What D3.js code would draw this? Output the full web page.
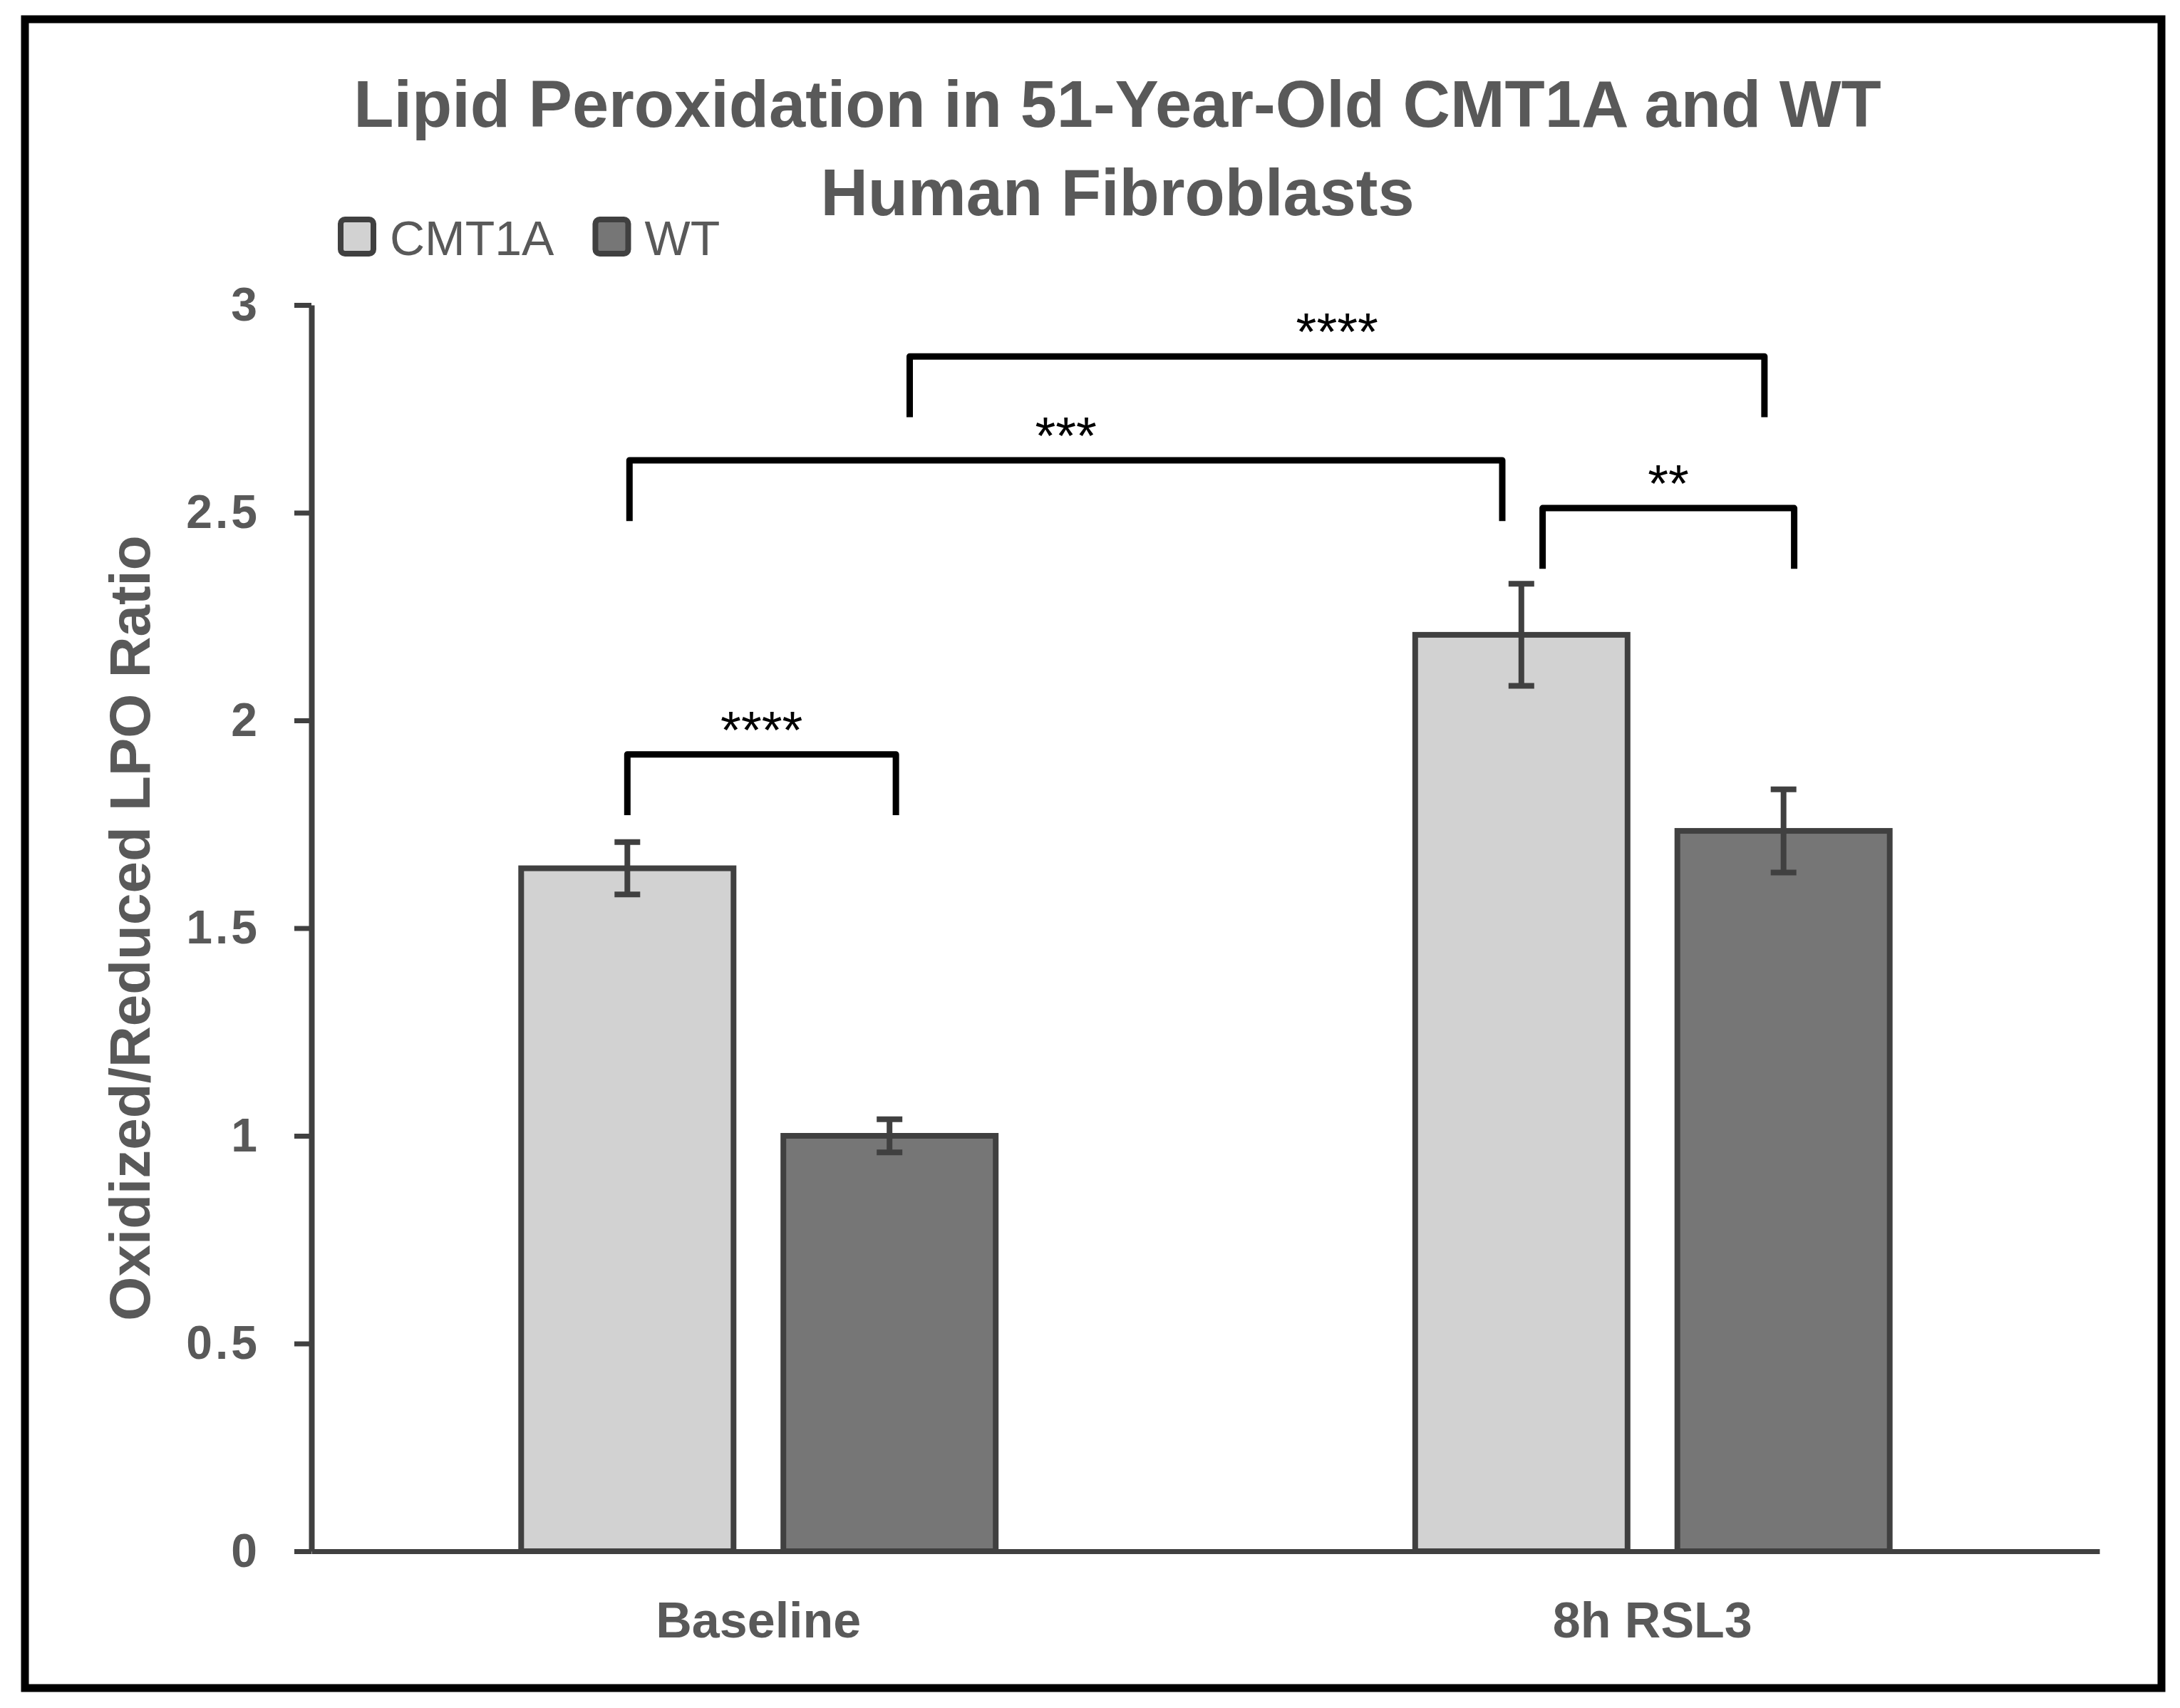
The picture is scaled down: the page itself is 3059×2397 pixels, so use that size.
<!DOCTYPE html>
<html>
<head>
<meta charset="utf-8">
<script src="https://cdn.jsdelivr.net/npm/d3@7"></script>
<style>
  body { margin: 0; background: #fff; }
  text { font-family: "Liberation Sans", Arial, sans-serif; }
</style>
</head>
<body>
<script>
// chart data
const categories = ["Baseline", "8h RSL3"];
const series = ["CMT1A", "WT"];
const cmt1aValues = [1.644, 2.206];
const cmt1aErrors = [0.063, 0.123];
const wtValues = [1.0, 1.734];
const wtErrors = [0.04, 0.10];
const yTicks = [0, 0.5, 1, 1.5, 2, 2.5, 3];
const titleLines = ["Lipid Peroxidation in 51-Year-Old CMT1A and WT", "Human Fibroblasts"];
const yTitle = "Oxidized/Reduced LPO Ratio";

// significance brackets: [category, series, nudge as fraction of bar width]
const brackets = [
  {from: ["Baseline", "CMT1A", 0], to: ["Baseline", "WT", 0.03], y: 1.918, label: "****"},
  {from: ["Baseline", "CMT1A", 0.01], to: ["8h RSL3", "CMT1A", -0.09], y: 2.626, label: "***"},
  {from: ["Baseline", "WT", 0.095], to: ["8h RSL3", "WT", -0.09], y: 2.876, label: "****"},
  {from: ["8h RSL3", "CMT1A", 0.1], to: ["8h RSL3", "WT", 0.05], y: 2.511, label: "**"}
];

const width = 3059, height = 2397;
const margin = {top: 428, bottom: 220, left: 437, right: 113};
const colors = {CMT1A: "#d2d2d2", WT: "#767676"};
const textGray = "#595959";
const lineGray = "#404040";

const rows = [];
categories.forEach((c, i) => {
  rows.push({cat: c, series: "CMT1A", value: cmt1aValues[i], err: cmt1aErrors[i]});
  rows.push({cat: c, series: "WT", value: wtValues[i], err: wtErrors[i]});
});

const svg = d3.select("body").append("svg")
  .attr("width", width)
  .attr("height", height);

svg.append("rect")
  .attr("width", width).attr("height", height)
  .attr("fill", "#fff");

// outer frame
svg.append("rect")
  .attr("x", 35).attr("y", 27)
  .attr("width", 2998).attr("height", 2342)
  .attr("fill", "none")
  .attr("stroke", "#000")
  .attr("stroke-width", 11);

// scales
const x0 = d3.scaleBand()
  .domain(categories)
  .range([margin.left, width - margin.right])
  .padding(0);

const x1 = d3.scaleBand()
  .domain(series)
  .range([0, x0.bandwidth()])
  .paddingInner(0.19)
  .paddingOuter(0.8);

const y = d3.scaleLinear()
  .domain([0, 3])
  .range([height - margin.bottom, margin.top]);

// title
svg.append("g")
  .selectAll("text")
  .data(titleLines)
  .enter()
  .append("text")
  .attr("x", 1568)
  .attr("y", (d, i) => 178 + i * 124)
  .attr("text-anchor", "middle")
  .attr("font-size", 92)
  .attr("font-weight", "bold")
  .attr("fill", textGray)
  .text(d => d);

// legend
const legend = svg.append("g").attr("transform", "translate(478, 308)");
let lx = 0;
series.forEach(s => {
  legend.append("rect")
    .attr("x", lx).attr("y", 0)
    .attr("width", 46).attr("height", 48)
    .attr("rx", 6)
    .attr("fill", colors[s])
    .attr("stroke", lineGray)
    .attr("stroke-width", 8);
  const t = legend.append("text")
    .attr("x", lx + 69)
    .attr("y", 50)
    .attr("font-size", 68)
    .attr("fill", textGray)
    .text(s);
  lx += 69 + t.node().getComputedTextLength() + 58;
});

// y axis
const yAxis = d3.axisLeft(y)
  .tickValues(yTicks)
  .tickFormat(d => String(d))
  .tickSize(24)
  .tickSizeOuter(0)
  .tickPadding(48);

const yg = svg.append("g")
  .attr("transform", `translate(${margin.left}, 0)`)
  .call(yAxis);
yg.select(".domain").attr("stroke", lineGray).attr("stroke-width", 8);
yg.selectAll(".tick line").attr("stroke", lineGray).attr("stroke-width", 7);
yg.selectAll(".tick text")
  .attr("font-family", "Liberation Sans, Arial, sans-serif")
  .attr("font-size", 66)
  .attr("font-weight", "bold")
  .attr("letter-spacing", 4)
  .attr("fill", textGray);

// y axis title
svg.append("text")
  .attr("transform", `translate(210, ${(y(0) + y(3)) / 2}) rotate(-90)`)
  .attr("text-anchor", "middle")
  .attr("font-size", 80)
  .attr("font-weight", "bold")
  .attr("fill", textGray)
  .text(yTitle);

// bars
const bars = svg.append("g").attr("id", "bars");
bars.selectAll("rect")
  .data(rows)
  .enter()
  .append("rect")
  .attr("x", d => x0(d.cat) + x1(d.series))
  .attr("y", d => y(d.value))
  .attr("width", x1.bandwidth())
  .attr("height", d => y(0) - y(d.value))
  .attr("fill", d => colors[d.series])
  .attr("stroke", lineGray)
  .attr("stroke-width", 8);

// error bars
const cx = d => x0(d.cat) + x1(d.series) + x1.bandwidth() / 2;
const errs = svg.append("g")
  .attr("stroke", lineGray)
  .attr("stroke-width", 8);
errs.selectAll("line.stem")
  .data(rows)
  .enter().append("line")
  .attr("class", "stem")
  .attr("x1", cx).attr("x2", cx)
  .attr("y1", d => y(d.value + d.err))
  .attr("y2", d => y(d.value - d.err));
errs.selectAll("line.capTop")
  .data(rows)
  .enter().append("line")
  .attr("class", "capTop")
  .attr("x1", d => cx(d) - 18).attr("x2", d => cx(d) + 18)
  .attr("y1", d => y(d.value + d.err))
  .attr("y2", d => y(d.value + d.err));
errs.selectAll("line.capBot")
  .data(rows)
  .enter().append("line")
  .attr("class", "capBot")
  .attr("x1", d => cx(d) - 18).attr("x2", d => cx(d) + 18)
  .attr("y1", d => y(d.value - d.err))
  .attr("y2", d => y(d.value - d.err));

// x axis
const xAxis = d3.axisBottom(x0)
  .tickSize(0)
  .tickSizeOuter(0);

const xg = svg.append("g")
  .attr("transform", `translate(0, ${y(0)})`)
  .call(xAxis);
xg.select(".domain").attr("stroke", lineGray).attr("stroke-width", 7);
xg.selectAll(".tick text")
  .attr("dy", null)
  .attr("y", 121)
  .attr("font-family", "Liberation Sans, Arial, sans-serif")
  .attr("font-size", 70)
  .attr("font-weight", "bold")
  .attr("fill", textGray);

// significance brackets
const endX = e => x0(e[0]) + x1(e[1]) + x1.bandwidth() * (0.5 + e[2]);
const legDrop = 0.146;

const sig = svg.append("g").attr("id", "brackets");
sig.selectAll("path")
  .data(brackets)
  .enter()
  .append("path")
  .attr("d", b => `M${endX(b.from)},${y(b.y - legDrop)}V${y(b.y)}H${endX(b.to)}V${y(b.y - legDrop)}`)
  .attr("fill", "none")
  .attr("stroke", "#000")
  .attr("stroke-width", 9)
  .attr("stroke-linejoin", "round");

sig.selectAll("text")
  .data(brackets)
  .enter()
  .append("text")
  .attr("x", b => (endX(b.from) + endX(b.to)) / 2)
  .attr("y", b => y(b.y) - 9)
  .attr("text-anchor", "middle")
  .attr("font-size", 74)
  .attr("fill", "#000")
  .text(b => b.label);
</script>
</body>
</html>
